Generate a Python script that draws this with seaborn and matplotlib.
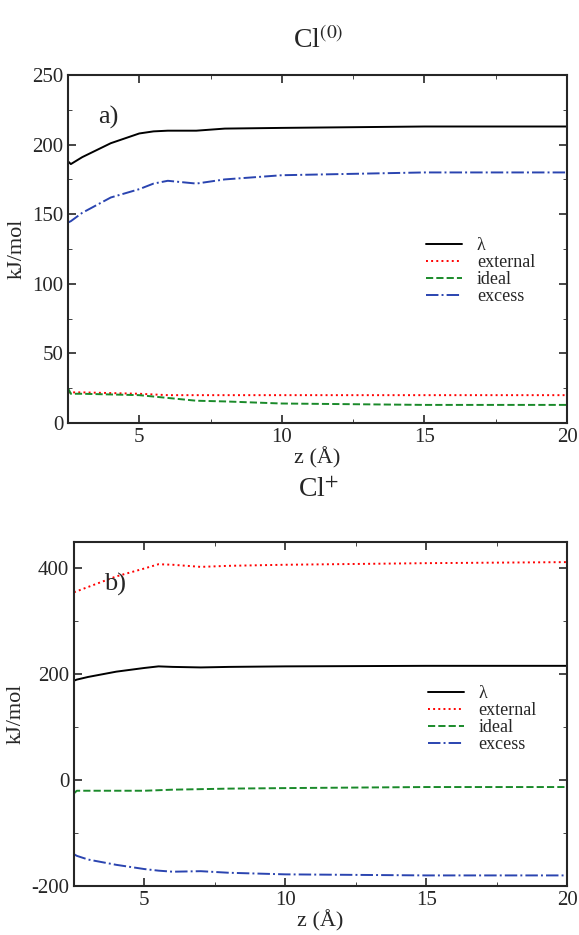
import matplotlib
matplotlib.use("Agg")
import matplotlib.pyplot as plt
import seaborn as sns
import pandas as pd

sns.set_style("ticks")
plt.rcParams['font.family'] = ['Liberation Serif', 'DejaVu Serif']
plt.rcParams['mathtext.fontset'] = 'stix'

labels = ["λ", "external", "ideal", "excess"]
colors = ["black", "red", "#1a8a2a", "#2a44b0"]
styles = ["-", ":", "--", "-."]

# panel a) Cl(0)
a_z = [2.5, 2.6, 3, 4, 5, 5.5, 6, 7, 8, 10, 15, 20]
a_lam = [188, 186, 191, 201, 208, 209.5, 210, 210, 211.5, 212, 213, 213]
a_ext = [22, 22, 22, 21.5, 21, 20.5, 20, 20, 20, 20, 20, 20]
a_ideal = [25, 21, 21, 20.5, 20, 19, 18, 16, 15.5, 14, 13, 13]
a_exc = [144, 145, 151, 162, 168, 172, 174, 172, 175, 178, 180, 180]

# panel b) Cl+
b_z = [2.5, 2.6, 3, 4, 5, 5.5, 6, 7, 8, 10, 15, 20]
b_lam = [188, 190, 195, 205, 212, 215, 214, 213, 214, 215, 216, 216]
b_ext = [355, 357, 365, 385, 400, 408, 407, 403, 405, 407, 410, 412]
b_ideal = [-25, -20, -20, -20, -20, -19, -18, -17, -16, -15, -13, -13]
b_exc = [-140, -143, -150, -160, -168, -171, -173, -172, -175, -178, -180, -180]

fig = plt.figure(figsize=(5.79, 9.35), dpi=100)
W, H = 579, 935
ax1 = fig.add_axes([68 / W, 1 - 423 / H, (567 - 68) / W, (423 - 75) / H])
ax2 = fig.add_axes([74 / W, 1 - 886 / H, (567 - 74) / W, (886 - 542) / H])


def draw(ax, z, series, ylim, yticks, minor, tag, legend_anchor):
    for lab, vals, c, ls in zip(labels, series, colors, styles):
        df = pd.DataFrame({"z": z, "v": vals})
        sns.lineplot(data=df, x="z", y="v", ax=ax, color=c, linestyle=ls,
                     linewidth=1.4, label=lab)
    ax.set_xlim(2.5, 20)
    ax.set_ylim(*ylim)
    ax.set_xticks([5, 10, 15, 20])
    ax.set_xticks([2.5, 7.5, 12.5, 17.5], minor=True)
    ax.set_yticks(yticks)
    ax.set_yticks(minor, minor=True)
    ax.tick_params(direction="in", top=True, right=True, labelsize=15, length=6, width=1.2)
    ax.tick_params(which="minor", direction="in", top=True, right=True, length=3)
    for s in ax.spines.values():
        s.set_linewidth(1.5)
    ax.set_xlabel("z (Å)", fontsize=16, labelpad=0)
    ax.set_ylabel("kJ/mol", fontsize=16)
    ax.text(0.06, 0.86, tag, transform=ax.transAxes, fontsize=19)
    ax.legend(loc="upper left", bbox_to_anchor=legend_anchor, frameon=False,
              fontsize=13, handlelength=2.0, labelspacing=0.0, borderpad=0)


draw(ax1, a_z, [a_lam, a_ext, a_ideal, a_exc], (0, 250), [0, 50, 100, 150, 200, 250],
     [25, 75, 125, 175, 225], "a)", (0.7, 0.56))
draw(ax2, b_z, [b_lam, b_ext, b_ideal, b_exc], (-200, 450), [-200, 0, 200, 400],
     [-100, 100, 300], "b)", (0.7, 0.61))
ax2.set_yticklabels(["-200", "0", "200", "400"])

fig.text(0.55, 1 - 40 / H, r"Cl$^{(0)}$", ha="center", va="center", fontsize=20)
fig.text(0.55, 1 - 490 / H, r"Cl$^{+}$", ha="center", va="center", fontsize=20)

fig.savefig("out.png", dpi=100)
